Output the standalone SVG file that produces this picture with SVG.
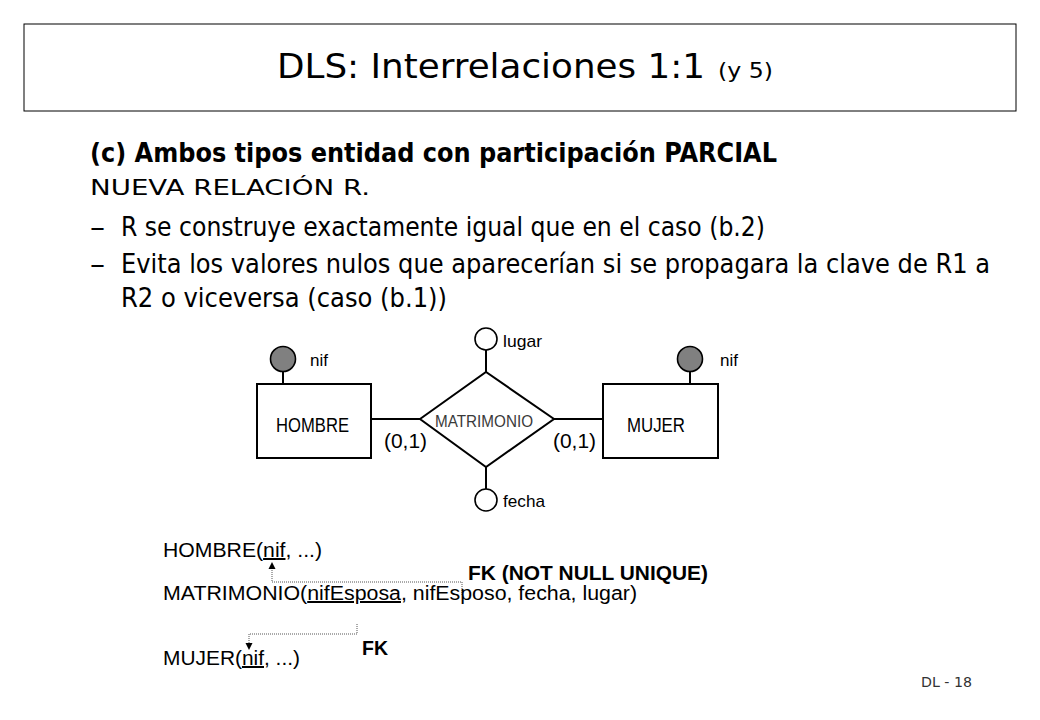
<svg xmlns="http://www.w3.org/2000/svg" width="1040" height="720" viewBox="0 0 1040 720">
<defs>
<style>
.title{font-family:"DejaVu Sans","Liberation Sans",sans-serif;fill:#000}
.body{font-family:"DejaVu Sans Condensed","DejaVu Sans","Liberation Sans",sans-serif;fill:#000}
.er{font-family:"Liberation Sans",Arial,sans-serif;fill:#000}
.rel{font-family:"Liberation Sans",Arial,sans-serif;font-size:20px;fill:#000}
.edge{stroke:#000;stroke-width:2;fill:none}
.ent{fill:#fff;stroke:#000;stroke-width:2}
.attr{fill:#fff;stroke:#000;stroke-width:1.6}
.key{fill:#808080;stroke:#000;stroke-width:1.6}
.dot{stroke:#555;stroke-width:1;stroke-dasharray:1 1;fill:none}
.u{text-decoration:underline}
</style>
</defs>
<rect width="1040" height="720" fill="#fff"/>

<g id="title">
<rect x="24" y="24" width="992" height="87" fill="#fff" stroke="#000" stroke-width="1"/>
<text class="title" x="277" y="78" font-size="34" textLength="428" lengthAdjust="spacingAndGlyphs">DLS: Interrelaciones 1:1</text>
<text class="title" x="718" y="78" font-size="22" textLength="55" lengthAdjust="spacingAndGlyphs">(y 5)</text>
</g>

<g id="body-text">
<text class="body" x="90" y="162" font-size="26" font-weight="bold" textLength="687" lengthAdjust="spacingAndGlyphs">(c) Ambos tipos entidad con participación PARCIAL</text>
<text class="title" x="90" y="195" font-size="21" textLength="280" lengthAdjust="spacingAndGlyphs">NUEVA RELACIÓN R.</text>
<text class="body" x="90" y="236" font-size="26" textLength="15" lengthAdjust="spacingAndGlyphs">–</text>
<text class="body" x="121" y="236" font-size="26" textLength="644" lengthAdjust="spacingAndGlyphs">R se construye exactamente igual que en el caso (b.2)</text>
<text class="body" x="90" y="273" font-size="26" textLength="15" lengthAdjust="spacingAndGlyphs">–</text>
<text class="body" x="121" y="273" font-size="26" textLength="869" lengthAdjust="spacingAndGlyphs">Evita los valores nulos que aparecerían si se propagara la clave de R1 a</text>
<text class="body" x="121" y="307" font-size="26" textLength="326" lengthAdjust="spacingAndGlyphs">R2 o viceversa (caso (b.1))</text>
</g>

<g id="connectors">
<line class="edge" x1="283" y1="372" x2="283" y2="384"/>
<line class="edge" x1="690" y1="372" x2="690" y2="384"/>
<line class="edge" x1="371" y1="419" x2="420" y2="419"/>
<line class="edge" x1="554" y1="419" x2="603" y2="419"/>
<line class="edge" x1="486" y1="350" x2="486" y2="372"/>
<line class="edge" x1="486" y1="467" x2="486" y2="489"/>
<polyline class="dot" points="462,595 462,582 272,582 272,570"/>
<polyline class="dot" points="357,624 357,634 249,634 249,643"/>
<path d="M268.5,569 L272,562 L275.5,569 Z" fill="#000"/>
<path d="M245.5,643 L249,650 L252.5,643 Z" fill="#000"/>
</g>

<g id="hombre">
<rect class="ent" x="257" y="384" width="114" height="74"/>
<text class="er" x="276" y="432" font-size="20" textLength="73" lengthAdjust="spacingAndGlyphs">HOMBRE</text>
</g>
<g id="hombre-nif">
<circle class="key" cx="283" cy="359" r="12.5"/>
<text class="er" x="310" y="366" font-size="17" textLength="18" lengthAdjust="spacingAndGlyphs">nif</text>
</g>

<g id="mujer">
<rect class="ent" x="603" y="384" width="115" height="74"/>
<text class="er" x="627" y="432" font-size="20" textLength="58" lengthAdjust="spacingAndGlyphs">MUJER</text>
</g>
<g id="mujer-nif">
<circle class="key" cx="690" cy="359" r="12.5"/>
<text class="er" x="720" y="366" font-size="17" textLength="18" lengthAdjust="spacingAndGlyphs">nif</text>
</g>

<g id="matrimonio">
<polygon class="ent" points="420,419 486,372 554,419 486,467"/>
<text class="er" x="435" y="427" font-size="16" style="fill:#3a3a3a" textLength="98" lengthAdjust="spacingAndGlyphs">MATRIMONIO</text>
<text class="er" x="384" y="448" font-size="20" textLength="43" lengthAdjust="spacingAndGlyphs">(0,1)</text>
<text class="er" x="553" y="448" font-size="20" textLength="43" lengthAdjust="spacingAndGlyphs">(0,1)</text>
</g>

<g id="lugar">
<circle class="attr" cx="486" cy="339" r="11"/>
<text class="er" x="503" y="347" font-size="17" textLength="39" lengthAdjust="spacingAndGlyphs">lugar</text>
</g>
<g id="fecha">
<circle class="attr" cx="486" cy="500" r="11"/>
<text class="er" x="503" y="507" font-size="17" textLength="42" lengthAdjust="spacingAndGlyphs">fecha</text>
</g>

<g id="relational">
<text class="rel" x="163" y="557" textLength="159" lengthAdjust="spacingAndGlyphs">HOMBRE(<tspan class="u">nif</tspan>, ...)</text>
<text class="rel" x="468" y="580" font-size="18" font-weight="bold" textLength="240" lengthAdjust="spacingAndGlyphs">FK (NOT NULL UNIQUE)</text>
<text class="rel" x="163" y="600" textLength="474" lengthAdjust="spacingAndGlyphs">MATRIMONIO(<tspan class="u">nifEsposa</tspan>, nifEsposo, fecha, lugar)</text>
<text class="rel" x="362" y="655" font-size="18" font-weight="bold" textLength="26" lengthAdjust="spacingAndGlyphs">FK</text>
<text class="rel" x="163" y="665" textLength="137" lengthAdjust="spacingAndGlyphs">MUJER(<tspan class="u">nif</tspan>, ...)</text>
</g>

<g id="footer">
<text class="body" x="921" y="687" font-size="14" style="fill:#333" textLength="51" lengthAdjust="spacingAndGlyphs">DL - 18</text>
</g>
</svg>
